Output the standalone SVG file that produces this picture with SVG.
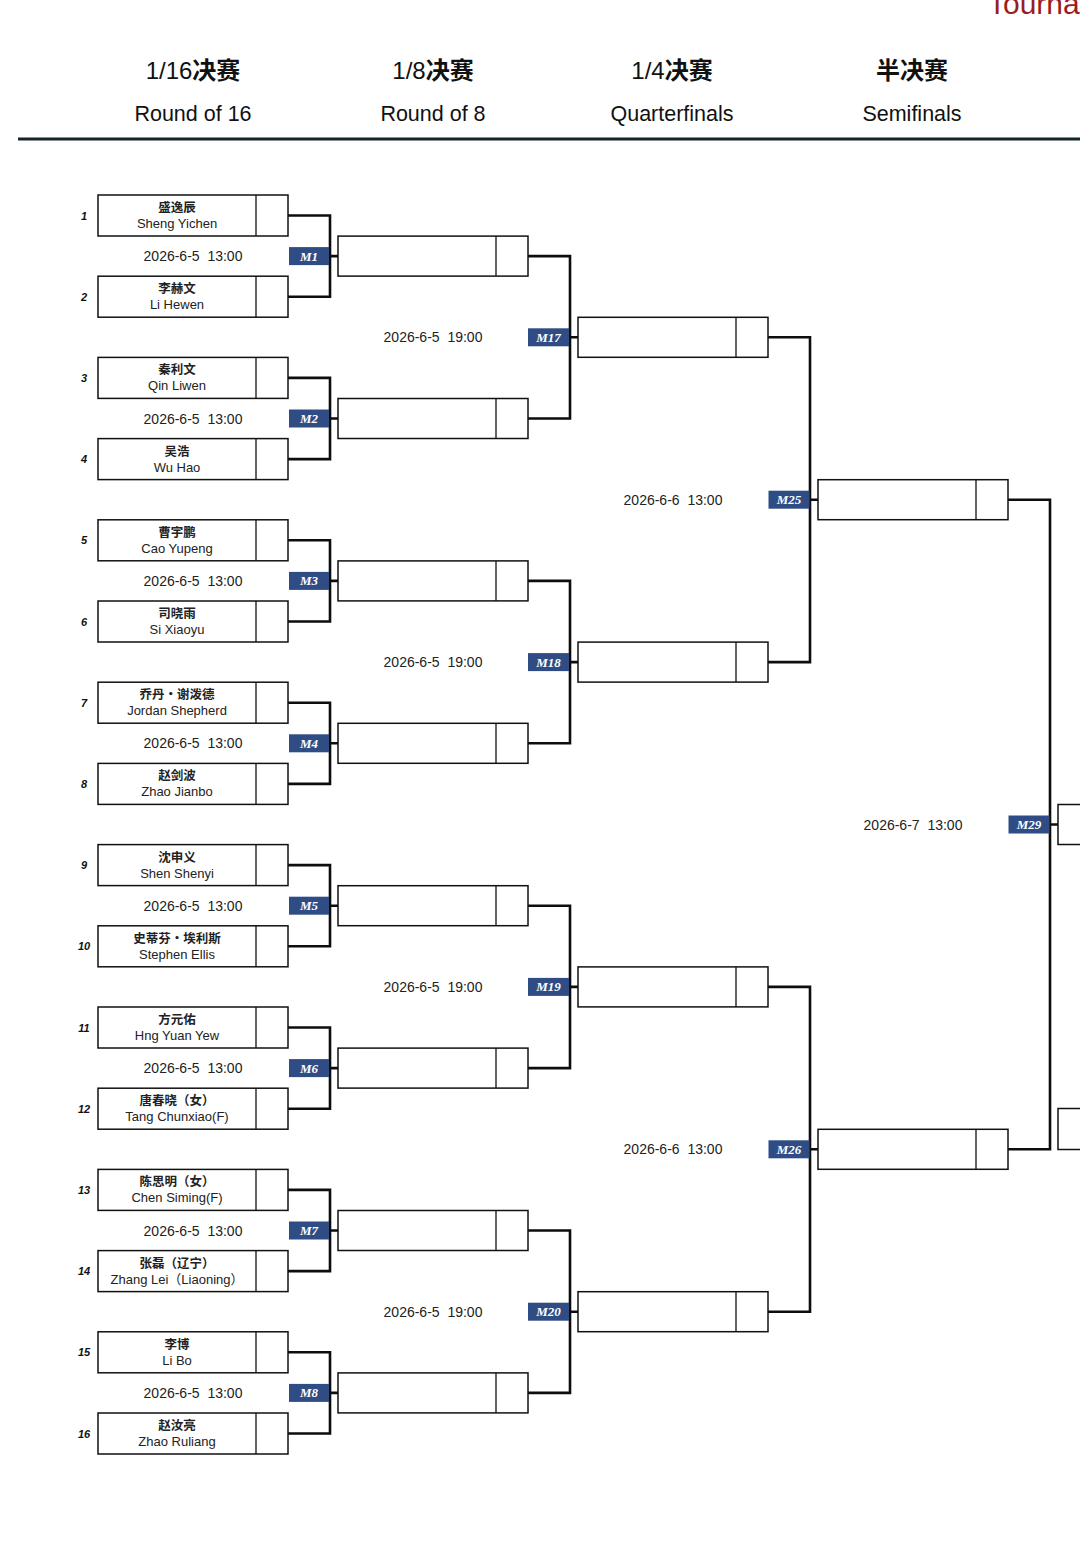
<svg xmlns="http://www.w3.org/2000/svg" width="1080" height="1544" viewBox="0 0 1080 1544">
<style>
.bg{fill:#ffffff}
.box{fill:#ffffff;stroke:#111;stroke-width:1.5}
.div{stroke:#111;stroke-width:1.3}
.conn{fill:none;stroke:#0d0d0d;stroke-width:2.6}
.cn{font-family:"Noto Sans CJK SC","Liberation Sans",sans-serif;font-size:12.5px;font-weight:bold;fill:#222;text-anchor:middle}
.en{font-family:"Liberation Sans","Noto Sans CJK SC",sans-serif;font-size:13px;fill:#222;text-anchor:middle}
.seed{font-family:"Liberation Sans",sans-serif;font-size:11px;font-weight:bold;font-style:italic;fill:#111;text-anchor:middle}
.date{font-family:"Liberation Sans",sans-serif;font-size:14px;fill:#222;text-anchor:middle;white-space:pre}
.mb{fill:#2f4c84}
.mt{font-family:"Liberation Serif",serif;font-size:13px;font-weight:bold;font-style:italic;fill:#ffffff;text-anchor:middle}
.h1{font-family:"Liberation Sans","Noto Sans CJK SC",sans-serif;font-size:24px;fill:#111;text-anchor:middle}
.h1 .b{font-weight:bold}
.h2{font-family:"Liberation Sans",sans-serif;font-size:21.5px;fill:#111;text-anchor:middle}
</style>
<rect class="bg" x="0" y="0" width="1080" height="1544"/>

<g id="header">
<text x="988" y="14" style="font-family:'Liberation Sans',sans-serif;font-size:30px;fill:#9b1c1c">Tourna</text>
<text class="h1" x="193" y="79">1/16<tspan class="b">决赛</tspan></text>
<text class="h2" x="193" y="121">Round of 16</text>
<text class="h1" x="433" y="79">1/8<tspan class="b">决赛</tspan></text>
<text class="h2" x="433" y="121">Round of 8</text>
<text class="h1" x="672" y="79">1/4<tspan class="b">决赛</tspan></text>
<text class="h2" x="672" y="121">Quarterfinals</text>
<text class="h1" x="912" y="79"><tspan class="b">半决赛</tspan></text>
<text class="h2" x="912" y="121">Semifinals</text>
<rect x="18" y="137.5" width="1062" height="3" fill="#15232b"/>
</g>

<g id="connectors">
<path class="conn" d="M288,215.5H330V296.7H288M330,256.1H338"/>
<path class="conn" d="M288,377.9H330V459.1H288M330,418.5H338"/>
<path class="conn" d="M288,540.3H330V621.5H288M330,580.9H338"/>
<path class="conn" d="M288,702.7H330V783.9H288M330,743.3H338"/>
<path class="conn" d="M288,865.1H330V946.3H288M330,905.7H338"/>
<path class="conn" d="M288,1027.5H330V1108.7H288M330,1068.1H338"/>
<path class="conn" d="M288,1189.9H330V1271.1H288M330,1230.5H338"/>
<path class="conn" d="M288,1352.3H330V1433.5H288M330,1392.9H338"/>
<path class="conn" d="M528,256.1H570V418.5H528M570,337.3H578"/>
<path class="conn" d="M528,580.9H570V743.3H528M570,662.1H578"/>
<path class="conn" d="M528,905.7H570V1068.1H528M570,986.9H578"/>
<path class="conn" d="M528,1230.5H570V1392.9H528M570,1311.7H578"/>
<path class="conn" d="M768,337.3H810V662.1H768M810,499.7H818"/>
<path class="conn" d="M768,986.9H810V1311.7H768M810,1149.3H818"/>
<path class="conn" d="M1008,499.7H1050V1149.3H1008M1050,824.5H1058"/>
</g>

<g id="r16">
<g id="p1"><rect class="box" x="98" y="195" width="190" height="41"/><line class="div" x1="256" y1="195" x2="256" y2="236"/><text class="seed" x="84" y="219.5">1</text><text class="cn" x="177" y="212">盛逸辰</text><text class="en" x="177" y="228">Sheng Yichen</text></g>
<g id="p2"><rect class="box" x="98" y="276.2" width="190" height="41"/><line class="div" x1="256" y1="276.2" x2="256" y2="317.2"/><text class="seed" x="84" y="300.7">2</text><text class="cn" x="177" y="293.2">李赫文</text><text class="en" x="177" y="309.2">Li Hewen</text></g>
<g id="p3"><rect class="box" x="98" y="357.4" width="190" height="41"/><line class="div" x1="256" y1="357.4" x2="256" y2="398.4"/><text class="seed" x="84" y="381.9">3</text><text class="cn" x="177" y="374.4">秦利文</text><text class="en" x="177" y="390.4">Qin Liwen</text></g>
<g id="p4"><rect class="box" x="98" y="438.6" width="190" height="41"/><line class="div" x1="256" y1="438.6" x2="256" y2="479.6"/><text class="seed" x="84" y="463.1">4</text><text class="cn" x="177" y="455.6">吴浩</text><text class="en" x="177" y="471.6">Wu Hao</text></g>
<g id="p5"><rect class="box" x="98" y="519.8" width="190" height="41"/><line class="div" x1="256" y1="519.8" x2="256" y2="560.8"/><text class="seed" x="84" y="544.3">5</text><text class="cn" x="177" y="536.8">曹宇鹏</text><text class="en" x="177" y="552.8">Cao Yupeng</text></g>
<g id="p6"><rect class="box" x="98" y="601" width="190" height="41"/><line class="div" x1="256" y1="601" x2="256" y2="642"/><text class="seed" x="84" y="625.5">6</text><text class="cn" x="177" y="618">司晓雨</text><text class="en" x="177" y="634">Si Xiaoyu</text></g>
<g id="p7"><rect class="box" x="98" y="682.2" width="190" height="41"/><line class="div" x1="256" y1="682.2" x2="256" y2="723.2"/><text class="seed" x="84" y="706.7">7</text><text class="cn" x="177" y="699.2">乔丹・谢泼德</text><text class="en" x="177" y="715.2">Jordan Shepherd</text></g>
<g id="p8"><rect class="box" x="98" y="763.4" width="190" height="41"/><line class="div" x1="256" y1="763.4" x2="256" y2="804.4"/><text class="seed" x="84" y="787.9">8</text><text class="cn" x="177" y="780.4">赵剑波</text><text class="en" x="177" y="796.4">Zhao Jianbo</text></g>
<g id="p9"><rect class="box" x="98" y="844.6" width="190" height="41"/><line class="div" x1="256" y1="844.6" x2="256" y2="885.6"/><text class="seed" x="84" y="869.1">9</text><text class="cn" x="177" y="861.6">沈申义</text><text class="en" x="177" y="877.6">Shen Shenyi</text></g>
<g id="p10"><rect class="box" x="98" y="925.8" width="190" height="41"/><line class="div" x1="256" y1="925.8" x2="256" y2="966.8"/><text class="seed" x="84" y="950.3">10</text><text class="cn" x="177" y="942.8">史蒂芬・埃利斯</text><text class="en" x="177" y="958.8">Stephen Ellis</text></g>
<g id="p11"><rect class="box" x="98" y="1007" width="190" height="41"/><line class="div" x1="256" y1="1007" x2="256" y2="1048"/><text class="seed" x="84" y="1031.5">11</text><text class="cn" x="177" y="1024">方元佑</text><text class="en" x="177" y="1040">Hng Yuan Yew</text></g>
<g id="p12"><rect class="box" x="98" y="1088.2" width="190" height="41"/><line class="div" x1="256" y1="1088.2" x2="256" y2="1129.2"/><text class="seed" x="84" y="1112.7">12</text><text class="cn" x="177" y="1105.2">唐春晓（女）</text><text class="en" x="177" y="1121.2">Tang Chunxiao(F)</text></g>
<g id="p13"><rect class="box" x="98" y="1169.4" width="190" height="41"/><line class="div" x1="256" y1="1169.4" x2="256" y2="1210.4"/><text class="seed" x="84" y="1193.9">13</text><text class="cn" x="177" y="1186.4">陈思明（女）</text><text class="en" x="177" y="1202.4">Chen Siming(F)</text></g>
<g id="p14"><rect class="box" x="98" y="1250.6" width="190" height="41"/><line class="div" x1="256" y1="1250.6" x2="256" y2="1291.6"/><text class="seed" x="84" y="1275.1">14</text><text class="cn" x="177" y="1267.6">张磊（辽宁）</text><text class="en" x="177" y="1283.6">Zhang Lei（Liaoning）</text></g>
<g id="p15"><rect class="box" x="98" y="1331.8" width="190" height="41"/><line class="div" x1="256" y1="1331.8" x2="256" y2="1372.8"/><text class="seed" x="84" y="1356.3">15</text><text class="cn" x="177" y="1348.8">李博</text><text class="en" x="177" y="1364.8">Li Bo</text></g>
<g id="p16"><rect class="box" x="98" y="1413" width="190" height="41"/><line class="div" x1="256" y1="1413" x2="256" y2="1454"/><text class="seed" x="84" y="1437.5">16</text><text class="cn" x="177" y="1430">赵汝亮</text><text class="en" x="177" y="1446">Zhao Ruliang</text></g>
</g>

<g id="r16-dates">
<text class="date" x="193" y="261.1">2026-6-5  13:00</text>
<text class="date" x="193" y="423.5">2026-6-5  13:00</text>
<text class="date" x="193" y="585.9">2026-6-5  13:00</text>
<text class="date" x="193" y="748.3">2026-6-5  13:00</text>
<text class="date" x="193" y="910.7">2026-6-5  13:00</text>
<text class="date" x="193" y="1073.1">2026-6-5  13:00</text>
<text class="date" x="193" y="1235.5">2026-6-5  13:00</text>
<text class="date" x="193" y="1397.9">2026-6-5  13:00</text>
<text class="date" x="433" y="342.3">2026-6-5  19:00</text>
<text class="date" x="433" y="667.1">2026-6-5  19:00</text>
<text class="date" x="433" y="991.9">2026-6-5  19:00</text>
<text class="date" x="433" y="1316.7">2026-6-5  19:00</text>
<text class="date" x="673" y="504.7">2026-6-6  13:00</text>
<text class="date" x="673" y="1154.3">2026-6-6  13:00</text>
<text class="date" x="913" y="829.5">2026-6-7  13:00</text>
</g>

<g id="r8">
<g id="w1"><rect class="box" x="338" y="236.1" width="190" height="40"/><line class="div" x1="496" y1="236.1" x2="496" y2="276.1"/></g>
<g id="w2"><rect class="box" x="338" y="398.5" width="190" height="40"/><line class="div" x1="496" y1="398.5" x2="496" y2="438.5"/></g>
<g id="w3"><rect class="box" x="338" y="560.9" width="190" height="40"/><line class="div" x1="496" y1="560.9" x2="496" y2="600.9"/></g>
<g id="w4"><rect class="box" x="338" y="723.3" width="190" height="40"/><line class="div" x1="496" y1="723.3" x2="496" y2="763.3"/></g>
<g id="w5"><rect class="box" x="338" y="885.7" width="190" height="40"/><line class="div" x1="496" y1="885.7" x2="496" y2="925.7"/></g>
<g id="w6"><rect class="box" x="338" y="1048.1" width="190" height="40"/><line class="div" x1="496" y1="1048.1" x2="496" y2="1088.1"/></g>
<g id="w7"><rect class="box" x="338" y="1210.5" width="190" height="40"/><line class="div" x1="496" y1="1210.5" x2="496" y2="1250.5"/></g>
<g id="w8"><rect class="box" x="338" y="1372.9" width="190" height="40"/><line class="div" x1="496" y1="1372.9" x2="496" y2="1412.9"/></g>
</g>

<g id="qf">
<g id="w17"><rect class="box" x="578" y="317.3" width="190" height="40"/><line class="div" x1="736" y1="317.3" x2="736" y2="357.3"/></g>
<g id="w18"><rect class="box" x="578" y="642.1" width="190" height="40"/><line class="div" x1="736" y1="642.1" x2="736" y2="682.1"/></g>
<g id="w19"><rect class="box" x="578" y="966.9" width="190" height="40"/><line class="div" x1="736" y1="966.9" x2="736" y2="1006.9"/></g>
<g id="w20"><rect class="box" x="578" y="1291.7" width="190" height="40"/><line class="div" x1="736" y1="1291.7" x2="736" y2="1331.7"/></g>
</g>

<g id="sf">
<g id="w25"><rect class="box" x="818" y="479.7" width="190" height="40"/><line class="div" x1="976" y1="479.7" x2="976" y2="519.7"/></g>
<g id="w26"><rect class="box" x="818" y="1129.3" width="190" height="40"/><line class="div" x1="976" y1="1129.3" x2="976" y2="1169.3"/></g>
</g>

<g id="final">
<g id="w29"><rect class="box" x="1058" y="804.5" width="190" height="40"/></g>
<g id="third"><rect class="box" x="1058" y="1108.5" width="190" height="41"/></g>
</g>

<g id="match-labels">
<g id="m1"><rect class="mb" x="289" y="247.1" width="40" height="18"/><text class="mt" x="309" y="260.6">M1</text></g>
<g id="m2"><rect class="mb" x="289" y="409.5" width="40" height="18"/><text class="mt" x="309" y="423">M2</text></g>
<g id="m3"><rect class="mb" x="289" y="571.9" width="40" height="18"/><text class="mt" x="309" y="585.4">M3</text></g>
<g id="m4"><rect class="mb" x="289" y="734.3" width="40" height="18"/><text class="mt" x="309" y="747.8">M4</text></g>
<g id="m5"><rect class="mb" x="289" y="896.7" width="40" height="18"/><text class="mt" x="309" y="910.2">M5</text></g>
<g id="m6"><rect class="mb" x="289" y="1059.1" width="40" height="18"/><text class="mt" x="309" y="1072.6">M6</text></g>
<g id="m7"><rect class="mb" x="289" y="1221.5" width="40" height="18"/><text class="mt" x="309" y="1235">M7</text></g>
<g id="m8"><rect class="mb" x="289" y="1383.9" width="40" height="18"/><text class="mt" x="309" y="1397.4">M8</text></g>
<g id="m17"><rect class="mb" x="528" y="328.3" width="41" height="18"/><text class="mt" x="548.5" y="341.8">M17</text></g>
<g id="m18"><rect class="mb" x="528" y="653.1" width="41" height="18"/><text class="mt" x="548.5" y="666.6">M18</text></g>
<g id="m19"><rect class="mb" x="528" y="977.9" width="41" height="18"/><text class="mt" x="548.5" y="991.4">M19</text></g>
<g id="m20"><rect class="mb" x="528" y="1302.7" width="41" height="18"/><text class="mt" x="548.5" y="1316.2">M20</text></g>
<g id="m25"><rect class="mb" x="768.5" y="490.7" width="41" height="18"/><text class="mt" x="789" y="504.2">M25</text></g>
<g id="m26"><rect class="mb" x="768.5" y="1140.3" width="41" height="18"/><text class="mt" x="789" y="1153.8">M26</text></g>
<g id="m29"><rect class="mb" x="1008.5" y="815.5" width="41" height="18"/><text class="mt" x="1029" y="829">M29</text></g>
</g>
</svg>
